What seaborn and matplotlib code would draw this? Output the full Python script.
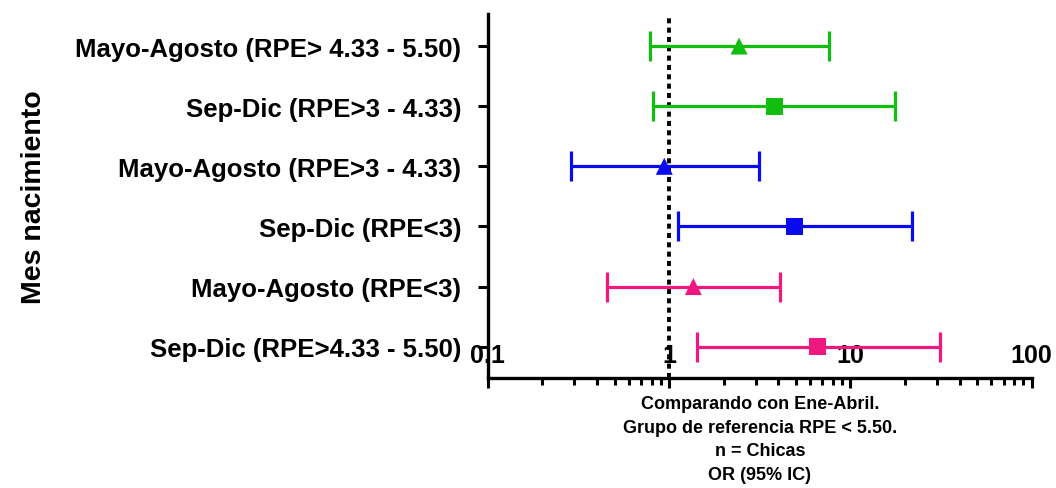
import numpy as np
import pandas as pd
import matplotlib
matplotlib.use("Agg")
import matplotlib.pyplot as plt
import matplotlib.ticker as mticker
import seaborn as sns

# ========== DATOS ==========
etiquetas = [
    "Sep-Dic (RPE>4.33 - 5.50)",
    "Mayo-Agosto (RPE<3)",
    "Sep-Dic (RPE<3)",
    "Mayo-Agosto (RPE>3 - 4.33)",
    "Sep-Dic (RPE>3 - 4.33)",
    "Mayo-Agosto (RPE> 4.33 - 5.50)",
]
odds_ratio = [6.6, 1.36, 4.9, 0.94, 3.8, 2.43]
ic_bajo = [1.43, 0.455, 1.12, 0.288, 0.81, 0.785]
ic_alto = [31.0, 4.1, 21.8, 3.13, 17.6, 7.6]
grupo = ["rosa", "rosa", "azul", "azul", "verde", "verde"]
periodo = ["Sep-Dic", "Mayo-Agosto", "Sep-Dic", "Mayo-Agosto", "Sep-Dic", "Mayo-Agosto"]
ticks_x = [0.1, 1, 10, 100]
ticks_x_txt = ["0.1", "1", "10", "100"]

colores = {"rosa": "#F0187F", "azul": "#0A0AF0", "verde": "#10BE10"}
marcadores = {"Sep-Dic": "s", "Mayo-Agosto": "^"}

df = pd.DataFrame({
    "etiqueta": etiquetas, "or": odds_ratio, "lo": ic_bajo, "hi": ic_alto,
    "grupo": grupo, "periodo": periodo,
})
df["pos"] = np.arange(len(df))

# ========== FIGURA ==========
sns.set_style("ticks")
plt.rcParams["font.family"] = ["Liberation Sans", "DejaVu Sans"]
plt.rcParams["font.weight"] = "bold"
plt.rcParams["text.color"] = "black"
plt.rcParams["axes.labelcolor"] = "black"
plt.rcParams["xtick.color"] = "black"
plt.rcParams["ytick.color"] = "black"
plt.rcParams["axes.edgecolor"] = "black"

fig = plt.figure(figsize=(10.56, 4.89), dpi=100)
ax = fig.add_axes([0.462, 0.225, 0.515, 0.744])

for _, fila in df.iterrows():
    ax.errorbar(fila["or"], fila["pos"],
                xerr=[[fila["or"] - fila["lo"]], [fila["hi"] - fila["or"]]],
                fmt="none", ecolor=colores[fila["grupo"]], elinewidth=2.3,
                capsize=11, capthick=2.3, zorder=2)

sns.scatterplot(data=df, x="or", y="pos", hue="grupo", style="periodo",
                palette=colores, markers=marcadores, s=150, linewidth=0,
                legend=False, ax=ax, zorder=3)

ax.axvline(1, color="black", linestyle=(0, (1.3, 1.1)), linewidth=2.8, zorder=1)

ax.set_xscale("log")
ax.set_xlim(0.1, 100)
ax.set_ylim(-0.52, 5.53)
ax.xaxis.set_major_locator(mticker.FixedLocator(ticks_x))
ax.xaxis.set_major_formatter(mticker.FixedFormatter(ticks_x_txt))
ax.xaxis.set_minor_locator(mticker.LogLocator(base=10, subs=np.arange(2, 10)))
ax.xaxis.set_minor_formatter(mticker.NullFormatter())

ax.set_yticks(df["pos"])
ax.set_yticklabels(df["etiqueta"], fontsize=18.5, fontweight="bold")

ax.tick_params(axis="x", which="major", direction="out", length=7, width=2.2,
               labelsize=18, pad=-32)
ax.tick_params(axis="x", which="minor", direction="out", length=5, width=2.2)
ax.tick_params(axis="y", direction="out", length=7, width=2.2, pad=12)
for lbl in ax.get_xticklabels():
    lbl.set_fontweight("bold")

for lado in ["top", "right"]:
    ax.spines[lado].set_visible(False)
for lado in ["left", "bottom"]:
    ax.spines[lado].set_linewidth(2.4)

ax.set_ylabel("Mes nacimiento", fontsize=20.5, fontweight="bold")
ax.yaxis.set_label_coords(-0.81, 0.5)
ax.set_xlabel("Comparando con Ene-Abril.\nGrupo de referencia RPE < 5.50.\nn = Chicas\nOR (95% IC)",
              fontsize=13, fontweight="bold", linespacing=1.5, labelpad=4)

plt.savefig("out.png", dpi=100)
plt.close()
